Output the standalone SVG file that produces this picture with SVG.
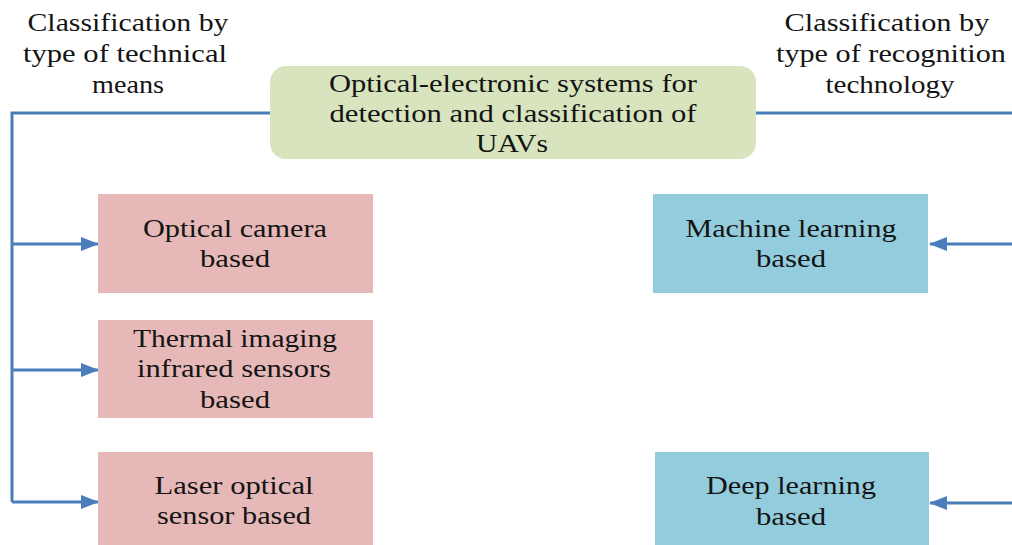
<svg xmlns="http://www.w3.org/2000/svg" width="1012" height="545" viewBox="0 0 1012 545">
<defs>
<style>
text{font-family:"Liberation Serif","Times New Roman",serif;font-size:25px;fill:#141414;text-anchor:middle}
.conn{stroke:#4A7EBB;stroke-width:3;fill:none}
.pink{fill:#E6B9B8}
.blue{fill:#93CDDD}
.green{fill:#D7E4BD}
</style>
<marker id="ah" markerUnits="userSpaceOnUse" markerWidth="18" markerHeight="14" refX="17" refY="7" orient="auto">
<path d="M0,0 L18,7 L0,14 Z" fill="#4A7EBB"/>
</marker>
</defs>
<rect width="1012" height="545" fill="#ffffff"/>
<g id="label-left">
<text x="128" y="31" textLength="201" lengthAdjust="spacingAndGlyphs">Classification by</text>
<text x="125" y="62" textLength="204" lengthAdjust="spacingAndGlyphs">type of technical</text>
<text x="128" y="93" textLength="72" lengthAdjust="spacingAndGlyphs">means</text>
</g>
<g id="label-right">
<text x="887" y="31" textLength="205" lengthAdjust="spacingAndGlyphs">Classification by</text>
<text x="891" y="62" textLength="230" lengthAdjust="spacingAndGlyphs">type of recognition</text>
<text x="890" y="93" textLength="129" lengthAdjust="spacingAndGlyphs">technology</text>
</g>
<g id="connectors">
<polyline class="conn" points="270,113 12,113 12,502"/>
<line class="conn" x1="12" y1="244" x2="98" y2="244" marker-end="url(#ah)"/>
<line class="conn" x1="12" y1="370" x2="98" y2="370" marker-end="url(#ah)"/>
<line class="conn" x1="12" y1="502" x2="98" y2="502" marker-end="url(#ah)"/>
<line class="conn" x1="756" y1="113" x2="1012" y2="113"/>
<line class="conn" x1="1014" y1="244" x2="930" y2="244" marker-end="url(#ah)"/>
<line class="conn" x1="1014" y1="503" x2="930" y2="503" marker-end="url(#ah)"/>
</g>
<g id="root">
<rect class="green" x="270" y="66" width="486" height="93" rx="16"/>
<text x="513" y="92" textLength="368" lengthAdjust="spacingAndGlyphs">Optical-electronic systems for</text>
<text x="513" y="122" textLength="367" lengthAdjust="spacingAndGlyphs">detection and classification of</text>
<text x="512" y="152" textLength="72" lengthAdjust="spacingAndGlyphs">UAVs</text>
</g>
<g id="optical-camera">
<rect class="pink" x="98" y="194" width="275" height="99"/>
<text x="235" y="237" textLength="184" lengthAdjust="spacingAndGlyphs">Optical camera</text>
<text x="235" y="267" textLength="70" lengthAdjust="spacingAndGlyphs">based</text>
</g>
<g id="thermal">
<rect class="pink" x="98" y="320" width="275" height="98"/>
<text x="235" y="347" textLength="204" lengthAdjust="spacingAndGlyphs">Thermal imaging</text>
<text x="234" y="377" textLength="194" lengthAdjust="spacingAndGlyphs">infrared sensors</text>
<text x="235" y="408" textLength="70" lengthAdjust="spacingAndGlyphs">based</text>
</g>
<g id="laser">
<rect class="pink" x="98" y="452" width="275" height="100"/>
<text x="234" y="494" textLength="159" lengthAdjust="spacingAndGlyphs">Laser optical</text>
<text x="234" y="524" textLength="154" lengthAdjust="spacingAndGlyphs">sensor based</text>
</g>
<g id="machine-learning">
<rect class="blue" x="653" y="194" width="275" height="99"/>
<text x="791" y="237" textLength="211" lengthAdjust="spacingAndGlyphs">Machine learning</text>
<text x="791" y="267" textLength="70" lengthAdjust="spacingAndGlyphs">based</text>
</g>
<g id="deep-learning">
<rect class="blue" x="655" y="452" width="274" height="100"/>
<text x="791" y="494" textLength="170" lengthAdjust="spacingAndGlyphs">Deep learning</text>
<text x="791" y="525" textLength="70" lengthAdjust="spacingAndGlyphs">based</text>
</g>
</svg>
